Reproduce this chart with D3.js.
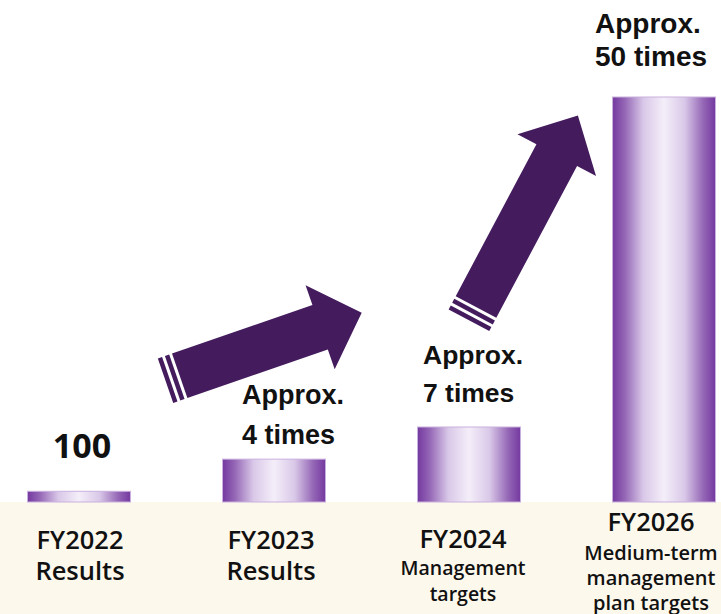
<!DOCTYPE html>
<html>
<head>
<meta charset="utf-8">
<script src="https://cdn.jsdelivr.net/npm/d3@7"></script>
<style>
  html, body { margin: 0; padding: 0; background: #ffffff; }
  svg { display: block; }
</style>
</head>
<body>
<div id="chart"></div>
<script>
// ---------- data ----------
const categories = ["FY2022", "FY2023", "FY2024", "FY2026"];
const values = [100, 400, 700, 5000];           // index: FY2022 = 100
const valueLabels = [["100"], ["Approx.", "4 times"], ["Approx.", "7 times"], ["Approx.", "50 times"]];
const categorySubLabels = [["Results"], ["Results"], ["Management", "targets"], ["Medium-term", "management", "plan targets"]];

// ---------- layout ----------
const W = 721, H = 614;
const baseY = 502;

const svg = d3.select("#chart").append("svg")
  .attr("width", W).attr("height", H)
  .attr("viewBox", `0 0 ${W} ${H}`);

const x = d3.scaleBand().domain(categories).range([27.5, 715.5]).paddingInner(0.472).paddingOuter(0);
// schematic (non-proportional) value axis, as in the original illustration
const y = d3.scaleLinear().domain([0, 700, 5000]).range([baseY, 427, 97]);

// gradient for bars
const defs = svg.append("defs");
const grad = defs.append("linearGradient").attr("id", "barGrad")
  .attr("x1", "0%").attr("x2", "100%").attr("y1", "0%").attr("y2", "0%");
[[0, "#7439a0"], [0.12, "#9567b6"], [0.3, "#d9c8e8"], [0.5, "#f4eef9"], [0.7, "#d9c8e8"], [0.88, "#9567b6"], [1, "#7439a0"]]
  .forEach(([o, c]) => grad.append("stop").attr("offset", o).attr("stop-color", c));

// cream band
svg.append("rect").attr("x", 0).attr("y", baseY).attr("width", W).attr("height", H - baseY)
  .attr("fill", "#fdf8ec");

// bars
svg.selectAll("rect.bar").data(values).join("rect")
  .attr("class", "bar")
  .attr("x", (d, i) => x(categories[i]))
  .attr("y", d => y(d))
  .attr("width", x.bandwidth())
  .attr("height", d => baseY - y(d))
  .attr("fill", "url(#barGrad)")
  .attr("stroke", "#c9b0de")
  .attr("stroke-width", 1);

// ---------- arrows (decoration) ----------
const arrowColor = "#441c5e";
function drawArrow(cx, cy, angle, len, shaftW, headW, headL) {
  const g = svg.append("g").attr("transform", `translate(${cx},${cy}) rotate(${angle})`);
  const sb = len - headL;
  const pts = [[0, -shaftW / 2], [sb, -shaftW / 2], [sb, -headW / 2], [len, 0],
               [sb, headW / 2], [sb, shaftW / 2], [0, shaftW / 2]];
  g.append("path").attr("d", d3.line()(pts) + "Z").attr("fill", arrowColor);
  // tail stripes
  [[-7.5, 4.5], [-15, 4.5]].forEach(([sx, sw]) => {
    g.append("rect").attr("x", sx).attr("y", -shaftW / 2).attr("width", sw).attr("height", shaftW)
      .attr("fill", arrowColor);
  });
}
drawArrow(179.7, 375.8, -19.1, 192.6, 47, 89, 44);
drawArrow(476, 307, -62, 217, 46, 89, 45);

// ---------- value labels ----------
const labelPos = [
  { anchor: "middle", x: 82, y: [458], size: 34, font: "'Open Sans', sans-serif", weight: 700 },
  { anchor: "start", x: 242, y: [403.5, 444], size: 27, font: "'Liberation Sans', Arial, sans-serif", weight: 700 },
  { anchor: "start", x: 423, y: [363.5, 401.7], size: 26.5, font: "'Liberation Sans', Arial, sans-serif", weight: 700 },
  { anchor: "start", x: 595, y: [33, 66], size: 28, font: "'Liberation Sans', Arial, sans-serif", weight: 700 }
];
valueLabels.forEach((lines, i) => {
  const p = labelPos[i];
  const t = svg.append("text")
    .attr("text-anchor", p.anchor)
    .attr("font-family", p.font).attr("font-weight", p.weight)
    .attr("font-size", p.size).attr("fill", "#111");
  lines.forEach((ln, j) => t.append("tspan").attr("x", p.x).attr("y", p.y[j]).text(ln));
});

// ---------- category labels ----------
const catLayout = [
  { dx: 1, yMain: 549, subY: [580], subSize: 25.5 },
  { dx: -3, yMain: 549, subY: [580], subSize: 25.5 },
  { dx: -6, yMain: 547.5, subY: [574.5, 601], subSize: 19.5 },
  { dx: -13, yMain: 531, subY: [560, 585, 609.5], subSize: 20 }
];
categories.forEach((c, i) => {
  const L = catLayout[i];
  const cx = x(c) + x.bandwidth() / 2 + L.dx;
  const g = svg.append("g").attr("font-family", "'Open Sans', sans-serif").attr("font-weight", 600)
    .attr("fill", "#111").attr("text-anchor", "middle");
  g.append("text").attr("x", cx).attr("y", L.yMain).attr("font-size", 25.5).text(c);
  const sub = g.append("text").attr("font-size", L.subSize);
  categorySubLabels[i].forEach((s, j) => {
    sub.append("tspan").attr("x", cx).attr("y", L.subY[j]).text(s);
  });
});
</script>
</body>
</html>
